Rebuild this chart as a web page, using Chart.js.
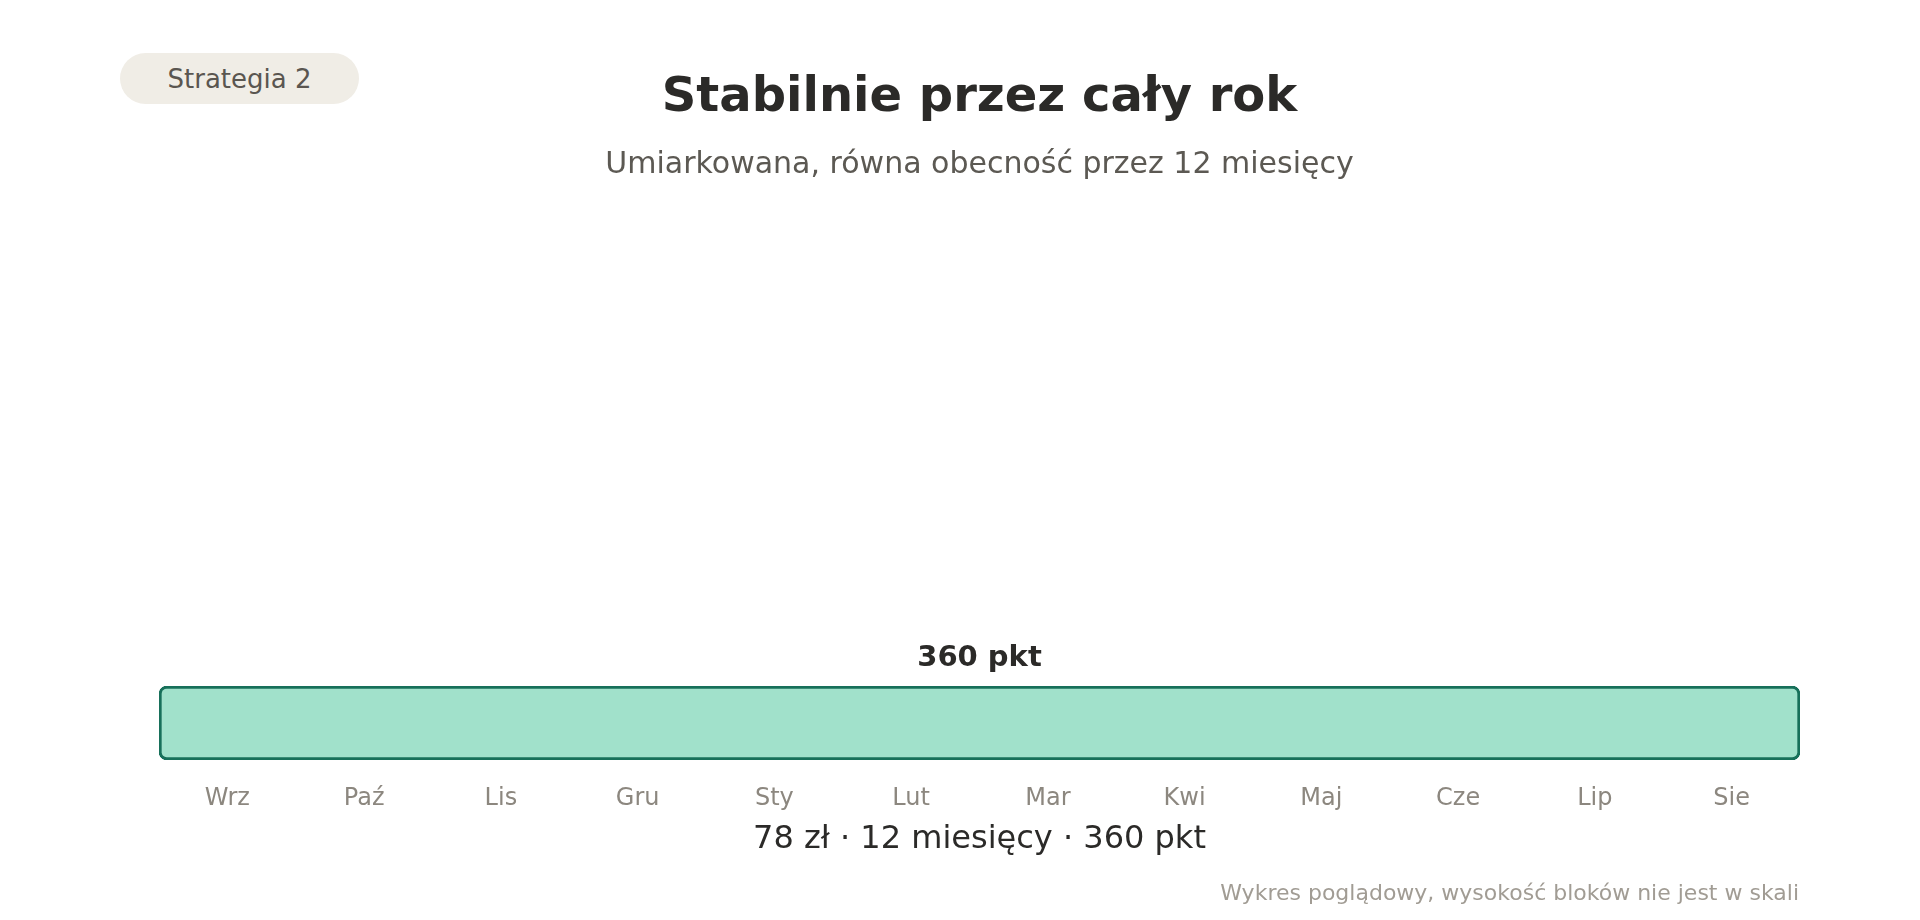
<!DOCTYPE html>
<html lang="pl">
<head>
<meta charset="utf-8">
<title>Stabilnie przez cały rok</title>
<script src="https://cdn.jsdelivr.net/npm/chart.js@4.4.1/dist/chart.umd.min.js"></script>
<style>
  html, body { margin: 0; padding: 0; background: #ffffff; }
  body { width: 1920px; height: 920px; position: relative; overflow: hidden; font-family: "DejaVu Sans", sans-serif; }
  #chart { position: absolute; left: 0; top: 0; }
  .pill { position: absolute; left: 120px; top: 53px; width: 239px; height: 51px; border-radius: 26px;
          background: #f0ede6; color: #5a5650; font-size: 26px; line-height: 52px; text-align: center; }
  .title { position: absolute; left: 159px; width: 1641px; top: 70px; text-align: center;
           font-size: 48px; line-height: 48px; font-weight: bold; color: #2b2a28; }
  .subtitle { position: absolute; left: 159px; width: 1641px; top: 147.5px; text-align: center;
              font-size: 30px; line-height: 30px; color: #5c5953; }
  .note { position: absolute; right: 121px; top: 882px; font-size: 22px; line-height: 22px; color: #a19c94; }
</style>
</head>
<body>
<canvas id="chart" width="1920" height="920"></canvas>
<div class="pill">Strategia 2</div>
<div class="title">Stabilnie przez cały rok</div>
<div class="subtitle">Umiarkowana, równa obecność przez 12 miesięcy</div>
<div class="note">Wykres poglądowy, wysokość bloków nie jest w skali</div>
<script>
// ---- data ----
const months = ['Wrz', 'Paź', 'Lis', 'Gru', 'Sty', 'Lut', 'Mar', 'Kwi', 'Maj', 'Cze', 'Lip', 'Sie'];
const strategyNames = ['Strategia 2'];
const startMonths = ['Wrz'];
const endMonths = ['Sie'];
const points = [360];
const pricesPln = [78];
const durationsMonths = [12];

const startIdx = months.indexOf(startMonths[0]);
const endIdx = months.indexOf(endMonths[0]);
const summaryText = pricesPln[0] + ' zł · ' + durationsMonths[0] + ' miesięcy · ' + points[0] + ' pkt';

const barLabelPlugin = {
  id: 'barLabel',
  afterDatasetsDraw(chart) {
    const ctx = chart.ctx;
    const meta = chart.getDatasetMeta(0);
    meta.data.forEach((el, i) => {
      const p = el.getProps(['x', 'y', 'base', 'height'], true);
      const cx = (p.x + p.base) / 2;
      const top = p.y - p.height / 2;
      ctx.save();
      ctx.font = 'bold 29px "DejaVu Sans", sans-serif';
      ctx.fillStyle = '#2b2a28';
      ctx.textAlign = 'center';
      ctx.textBaseline = 'alphabetic';
      ctx.fillText(points[i] + ' pkt', cx, top - 20);
      ctx.restore();
    });
  }
};

new Chart(document.getElementById('chart'), {
  type: 'bar',
  data: {
    labels: strategyNames,
    datasets: [{
      label: 'pkt',
      data: [[startIdx - 0.5, endIdx + 0.5]],
      backgroundColor: '#a1e1cb',
      borderColor: '#17705a',
      borderWidth: 3,
      borderRadius: 8,
      borderSkipped: false,
      barPercentage: 1,
      categoryPercentage: 1
    }]
  },
  options: {
    indexAxis: 'y',
    responsive: false,
    animation: false,
    devicePixelRatio: 1,
    layout: { padding: { left: 159, right: 120, top: 686, bottom: 60 } },
    plugins: { legend: { display: false }, tooltip: { enabled: false }, title: { display: false } },
    scales: {
      x: {
        type: 'linear',
        min: -0.5,
        max: months.length - 0.5,
        afterBuildTicks(scale) { scale.ticks = months.map((m, i) => ({ value: i })); },
        afterFit(scale) { scale.height = 100; },
        grid: { display: false, drawTicks: false },
        border: { display: false },
        ticks: {
          autoSkip: false,
          maxRotation: 0,
          padding: 24,
          color: '#8c877f',
          font: { family: '"DejaVu Sans", sans-serif', size: 24 },
          callback: (v) => months[v]
        },
        title: {
          display: true,
          text: summaryText,
          color: '#2b2a28',
          font: { family: '"DejaVu Sans", sans-serif', size: 32 },
          padding: { top: 0, bottom: 1.5 }
        }
      },
      y: { type: 'category', display: false }
    }
  },
  plugins: [barLabelPlugin]
});
</script>
</body>
</html>
